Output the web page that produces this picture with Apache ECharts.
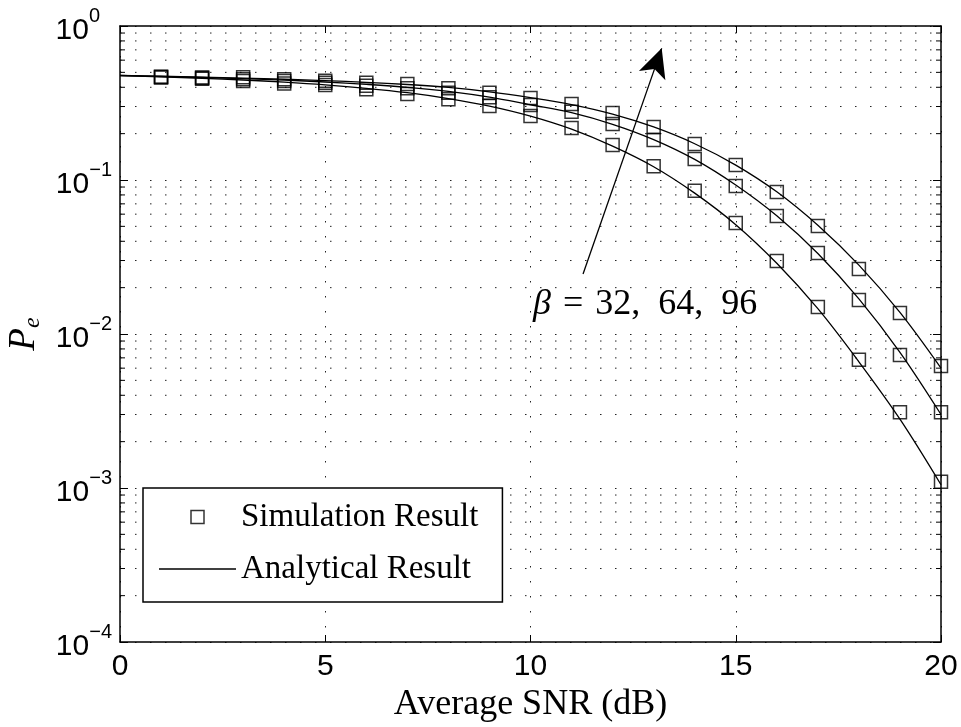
<!DOCTYPE html>
<html><head><meta charset="utf-8">
<script src="https://cdn.jsdelivr.net/npm/echarts@6/dist/echarts.min.js"></script>
<style>html,body{margin:0;padding:0;background:#fff}#c{width:961px;height:727px}</style>
</head><body><div id="c"></div>
<script>
// Simulation points (SNR in dB)
const snr = [1,2,3,4,5,6,7,8,9,10,11,12,13,14,15,16,17,18,19,20];
const sim32 = [0.463,0.455,0.439,0.424,0.414,0.388,0.362,0.334,0.302,0.260,0.218,0.169,0.123,0.085,0.0526,0.0298,0.0150,0.0068,0.0031,0.0011];
const sim64 = [0.466,0.459,0.451,0.440,0.428,0.410,0.394,0.369,0.344,0.307,0.277,0.231,0.182,0.137,0.0914,0.0584,0.0336,0.0166,0.0073,0.0031];
const sim96 = [0.468,0.463,0.464,0.451,0.441,0.428,0.420,0.394,0.369,0.341,0.312,0.272,0.221,0.171,0.125,0.0836,0.0502,0.0264,0.0137,0.0062];
// Analytical curves
const snrLine = [0,1,2,3,4,5,6,7,8,9,10,11,12,13,14,15,16,17,18,19,20];
const ana32 = [0.476,0.467,0.458,0.446,0.432,0.415,0.394,0.369,0.338,0.302,0.260,0.214,0.166,0.122,0.0822,0.0513,0.0288,0.0146,0.0066,0.0028,0.00105];
const ana64 = [0.477,0.470,0.463,0.455,0.445,0.433,0.418,0.400,0.376,0.345,0.308,0.274,0.230,0.183,0.136,0.0927,0.0585,0.0333,0.0169,0.0076,0.0030];
const ana96 = [0.478,0.472,0.466,0.459,0.451,0.442,0.431,0.417,0.399,0.374,0.343,0.309,0.268,0.221,0.172,0.125,0.0838,0.0508,0.0280,0.0138,0.0060];
// Axis ticks
const xTicks = [0,5,10,15,20];
const yDecades = [1e-4,1e-3,1e-2,1e-1];
const yMinorMultipliers = [2,3,4,5,6,7,8,9];
const minorGridValues = [];
yDecades.forEach(d => yMinorMultipliers.forEach(m => minorGridValues.push(m * d)));
// Annotation arrow (data coordinates)
const arrowStart = [11.28, 0.0245];
const arrowEnd = [13.196, 0.716];

const chart = echarts.init(document.getElementById('c'), null, {renderer: 'canvas'});
const axisLineStyle = {color: '#000', width: 1.5};
const dotted = {color: '#222', width: 1, type: [1.5, 13.5]};
function simSeries(vals) {
  return {name: 'Simulation Result', type: 'scatter', data: snr.map((x, i) => [x, vals[i]]),
    symbol: 'rect', symbolSize: 13, z: 4,
    itemStyle: {color: 'rgba(255,255,255,0)', borderColor: '#000', borderWidth: 1.5}};
}
function anaSeries(vals, extra) {
  return Object.assign({name: 'Analytical Result', type: 'line', data: snrLine.map((x, i) => [x, vals[i]]),
    smooth: 0.35, symbol: 'none', showSymbol: false, z: 3,
    lineStyle: {color: '#000', width: 1.3}, itemStyle: {color: '#000'}}, extra || {});
}
chart.setOption({
  animation: false,
  backgroundColor: '#fff',
  grid: {left: 120, right: 20, top: 26, bottom: 85, containLabel: false, outerBoundsMode: 'none', show: false},
  legend: {
    show: true, orient: 'vertical', left: 143, top: 488, padding: [9, 24, 13, 16],
    itemWidth: 77, itemHeight: 13, itemGap: 12, selectedMode: false,
    borderColor: '#000', borderWidth: 1.5, borderRadius: 0, backgroundColor: '#fff',
    textStyle: {fontFamily: 'Liberation Serif', fontSize: 33, color: '#000', lineHeight: 40},
    data: [
      {name: 'Simulation Result', icon: 'path://M0,0H10V10H0Z', itemStyle: {color: '#fff', borderColor: '#000', borderWidth: 1.5}},
      {name: 'Analytical Result', icon: 'path://M0,0H77V1.3H0Z', itemStyle: {color: '#000', borderWidth: 0}}
    ]
  },
  xAxis: [{
    type: 'value', min: 0, max: 20, interval: 5, position: 'bottom',
    axisLine: {show: true, onZero: false, lineStyle: axisLineStyle},
    axisTick: {show: true, inside: true, length: 7, lineStyle: {color: '#000', width: 1}},
    axisLabel: {fontFamily: 'Liberation Sans', fontSize: 30, color: '#000', margin: 10},
    splitLine: {show: true, lineStyle: dotted},
    name: 'Average SNR (dB)', nameLocation: 'middle', nameGap: 44,
    nameTextStyle: {fontFamily: 'Liberation Serif', fontSize: 36, color: '#000'}
  }, {
    type: 'value', min: 0, max: 20, interval: 5, position: 'top',
    axisLine: {show: true, onZero: false, lineStyle: axisLineStyle},
    axisTick: {show: true, inside: true, length: 7, lineStyle: {color: '#000', width: 1}},
    axisLabel: {show: false}, splitLine: {show: false}
  }],
  yAxis: [{
    type: 'log', logBase: 10, min: 1e-4, max: 1, position: 'left',
    axisLine: {show: true, onZero: false, lineStyle: axisLineStyle},
    axisTick: {show: true, inside: true, length: 8, lineStyle: {color: '#000', width: 1}},
    axisLabel: {
      margin: 8,
      formatter: function (v) {
        const e = Math.round(Math.log10(v));
        return e === 0 ? '{b|10}{z|0}' : '{b|10}{s|\u2212' + (-e) + '}';
      },
      rich: {
        b: {fontFamily: 'Liberation Sans', fontSize: 30, color: '#000', lineHeight: 40, verticalAlign: 'bottom'},
        s: {fontFamily: 'Liberation Sans', fontSize: 20, color: '#000', lineHeight: 20, verticalAlign: 'top', padding: [0, 0, 26, 0]},
        z: {fontFamily: 'Liberation Sans', fontSize: 20, color: '#000', lineHeight: 20, verticalAlign: 'top', padding: [0, 12, 26, 0]}
      }
    },
    splitLine: {show: true, lineStyle: dotted},
    name: '{p|P}{e|e}', nameLocation: 'middle', nameGap: 72, nameRotate: 90,
    nameTextStyle: {
      rich: {
        p: {fontFamily: 'Liberation Serif', fontStyle: 'italic', fontSize: 37, color: '#000', lineHeight: 40},
        e: {fontFamily: 'Liberation Serif', fontStyle: 'italic', fontSize: 24, color: '#000', lineHeight: 24, verticalAlign: 'bottom'}
      }
    }
  }, {
    type: 'log', logBase: 10, min: 1e-4, max: 1, position: 'right',
    axisLine: {show: true, onZero: false, lineStyle: axisLineStyle},
    axisTick: {show: true, inside: true, length: 8, lineStyle: {color: '#000', width: 1}},
    axisLabel: {show: false}, splitLine: {show: false}
  }],
  graphic: [{
    type: 'text', left: 533, top: 287, z: 10,
    style: {
      text: '{g|\u03b2}{eq|=}{n|32,  64,  96}',
      rich: {
        g: {fontFamily: 'Liberation Serif', fontStyle: 'italic', fontSize: 36, fill: '#000'},
        eq: {fontFamily: 'Liberation Serif', fontSize: 36, fill: '#000', padding: [0, 12, 0, 12]},
        n: {fontFamily: 'Liberation Serif', fontSize: 36, fill: '#000'}
      }
    }
  }],
  series: [
    {
      name: 'minorGrid', type: 'custom', z: 1, silent: true,
      data: minorGridValues.map(v => [0, v]),
      renderItem: function (params, api) {
        const v = api.value(1);
        const p0 = api.coord([0, v]);
        const p1 = api.coord([20, v]);
        return {type: 'group', children: [
          {type: 'line', shape: {x1: p0[0], y1: p0[1], x2: p1[0], y2: p1[1]}, style: {stroke: '#222', lineWidth: 1, lineDash: [1.5, 13.5]}},
          {type: 'line', shape: {x1: p0[0], y1: p0[1], x2: p0[0] + 5, y2: p0[1]}, style: {stroke: '#000', lineWidth: 1}},
          {type: 'line', shape: {x1: p1[0] - 5, y1: p1[1], x2: p1[0], y2: p1[1]}, style: {stroke: '#000', lineWidth: 1}}
        ]};
      }
    },
    anaSeries(ana32, {
      markLine: {
        silent: true, symbol: ['none', 'arrow'], symbolSize: [21, 29], animation: false,
        label: {show: false}, lineStyle: {color: '#000', width: 1.3, type: 'solid'}, itemStyle: {color: '#000'},
        data: [[{coord: arrowStart}, {coord: arrowEnd}]]
      }
    }),
    anaSeries(ana64),
    anaSeries(ana96),
    simSeries(sim32),
    simSeries(sim64),
    simSeries(sim96)
  ]
});
</script></body></html>
